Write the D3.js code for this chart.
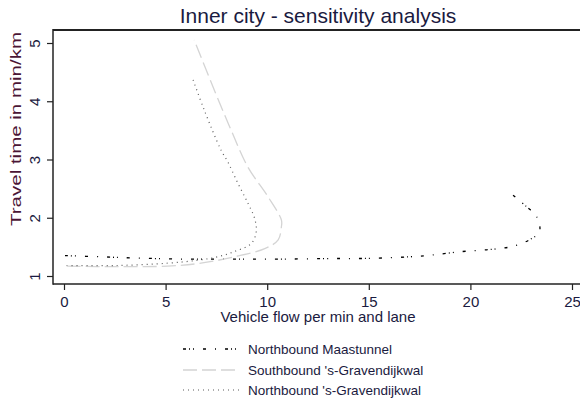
<!DOCTYPE html>
<html><head><meta charset="utf-8">
<script src="https://cdn.jsdelivr.net/npm/d3@7"></script>
<style>body{margin:0;background:#fff;} svg{display:block;font-family:"Liberation Sans",Arial,sans-serif;}</style>
</head><body><div id="chart"></div>
<script>
const title = "Inner city - sensitivity analysis";
const xLabel = "Vehicle flow per min and lane";
const yLabel = "Travel time in min/km";
const xTicks = [0, 5, 10, 15, 20, 25];
const yTicks = [1, 2, 3, 4, 5];
const seriesNames = ["Northbound Maastunnel", "Southbound 's-Gravendijkwal", "Northbound 's-Gravendijkwal"];

const maasX = [0.05, 1.8, 3.4, 5.9, 8.4, 10.8, 13.3, 14.5, 15.7, 17.05, 18.1, 19.6, 20.8, 21.4, 22.1, 22.9, 23.4, 23.26, 22.76, 21.99];
const maasY = [1.35, 1.33, 1.31, 1.29, 1.29, 1.29, 1.30, 1.30, 1.31, 1.33, 1.36, 1.42, 1.45, 1.47, 1.51, 1.62, 1.76, 2.02, 2.19, 2.42];

const southX = [0.13, 2.61, 5.09, 6.74, 8.39, 9.88, 10.54, 10.7, 10.7, 10.04, 9.05, 8.23, 7.4, 6.41];
const southY = [1.17, 1.16, 1.17, 1.22, 1.33, 1.47, 1.62, 1.85, 1.96, 2.36, 2.87, 3.50, 4.19, 5.05];

const northX = [0.13, 2.61, 5.09, 6.58, 7.57, 8.39, 9.22, 9.46, 9.38, 9.05, 8.56, 8.06, 7.73, 6.9, 6.29];
const northY = [1.18, 1.18, 1.22, 1.27, 1.33, 1.42, 1.56, 1.76, 1.99, 2.25, 2.59, 2.96, 3.16, 3.85, 4.43];

(function () {
const W = 580, H = 402;
const svg = d3.select("#chart").append("svg").attr("width", W).attr("height", H);

const x = d3.scaleLinear().domain([0, 25]).range([64, 572]);
const y = d3.scaleLinear().domain([1, 5]).range([276, 43]);

const pLeft = 53, pTop = 30, pBottom = 284, pRight = 580;
const textCol = "#1a1a40";

svg.append("line").attr("x1", pLeft).attr("x2", pRight).attr("y1", pTop).attr("y2", pTop)
  .attr("stroke", "#222").attr("stroke-width", 2);

const xAxis = d3.axisBottom(x).tickValues(xTicks).tickSize(6).tickPadding(6).tickFormat(d3.format("d"));
const gx = svg.append("g").attr("transform", `translate(0,${pBottom})`).call(xAxis);
gx.select(".domain").remove();
gx.selectAll("line").attr("stroke", "#222").attr("stroke-width", 1.2);
gx.selectAll("text").attr("font-size", 15).attr("fill", textCol).attr("font-family", "Liberation Sans, Arial, sans-serif");
svg.append("line").attr("x1", pLeft).attr("x2", pRight).attr("y1", pBottom).attr("y2", pBottom)
  .attr("stroke", "#222").attr("stroke-width", 1.5);

const yAxis = d3.axisLeft(y).tickValues(yTicks).tickSize(6).tickPadding(4).tickFormat(d3.format("d"));
const gy = svg.append("g").attr("transform", `translate(${pLeft},0)`).call(yAxis);
gy.select(".domain").remove();
gy.selectAll("line").attr("stroke", "#222").attr("stroke-width", 1.2);
gy.selectAll("text").attr("font-size", 15).attr("fill", textCol)
  .attr("font-family", "Liberation Sans, Arial, sans-serif")
  .attr("text-anchor", "middle").attr("x", null)
  .attr("transform", "translate(-18,0) rotate(-90)").attr("dy", "0.35em");
svg.append("line").attr("x1", pLeft).attr("x2", pLeft).attr("y1", pTop - 1).attr("y2", pBottom + 0.75)
  .attr("stroke", "#222").attr("stroke-width", 1.5);

svg.append("text").attr("x", 318).attr("y", 23).attr("text-anchor", "middle")
  .attr("font-size", 21).attr("fill", textCol).text(title);
svg.append("text").attr("x", 318).attr("y", 322).attr("text-anchor", "middle")
  .attr("font-size", 15).attr("fill", textCol).text(xLabel);
svg.append("text").attr("transform", `translate(21,${(30 + 228) / 2}) rotate(-90)`).attr("text-anchor", "middle")
  .attr("font-size", 15).attr("fill", "#4b1535")
  .attr("textLength", 194).attr("lengthAdjust", "spacingAndGlyphs").text(yLabel);

const styles = [
  {color: "#000", dash: "3,3,1,3,1,9,3,9,1,9", width: 1.3},
  {color: "#d4d4d4", dash: "14,5", width: 1.3},
  {color: "#5a5a5a", dash: "1,4", width: 1.2}
];
const data = [
  d3.zip(maasX, maasY),
  d3.zip(southX, southY),
  d3.zip(northX, northY)
];
const line = d3.line().x(d => x(d[0])).y(d => y(d[1])).curve(d3.curveCatmullRom.alpha(0.5));
data.forEach((pts, i) => {
  svg.append("path").attr("d", line(pts)).attr("fill", "none")
    .attr("stroke", styles[i].color).attr("stroke-width", styles[i].width)
    .attr("stroke-dasharray", styles[i].dash);
});

const legY = [349, 370, 390];
seriesNames.forEach((name, i) => {
  svg.append("line").attr("x1", 183).attr("x2", 240).attr("y1", legY[i]).attr("y2", legY[i])
    .attr("stroke", styles[i].color).attr("stroke-width", styles[i].width)
    .attr("stroke-dasharray", styles[i].dash);
  svg.append("text").attr("x", 248).attr("y", legY[i]).attr("dy", "0.35em")
    .attr("font-size", 13.5).attr("fill", textCol).text(name);
});
})();
</script></body></html>
